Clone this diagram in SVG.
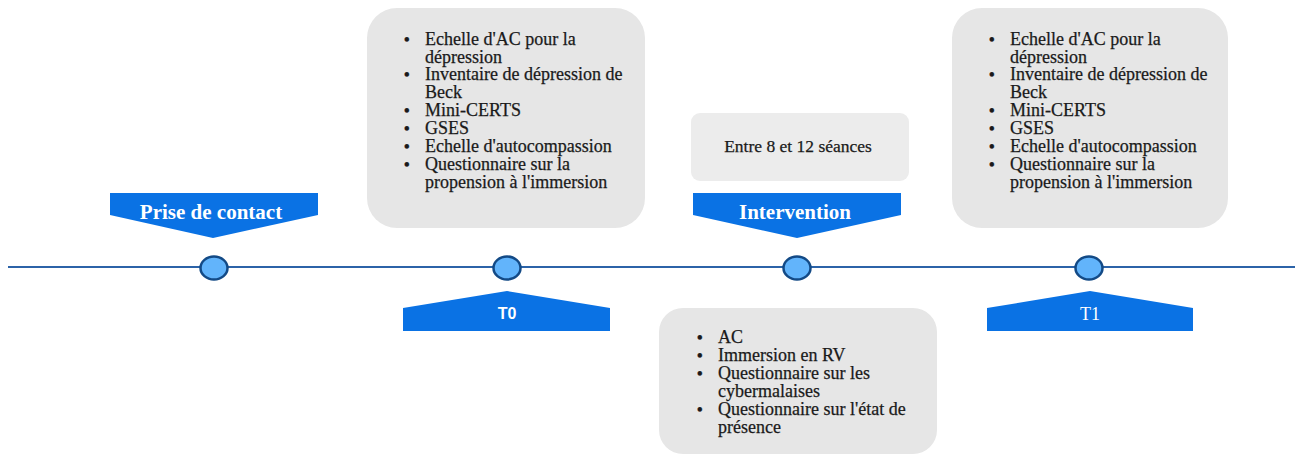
<svg xmlns="http://www.w3.org/2000/svg" width="1295" height="454" viewBox="0 0 1295 454">
<style>
.box{fill:#e6e6e6}
.bn{fill:#0a72e4}
.lst{font-family:"Liberation Serif",serif;font-size:18px;fill:#1a1a1a;stroke:#1a1a1a;stroke-width:0.25}
.bul{font-weight:bold;font-size:16px}
.bt{font-family:"Liberation Serif",serif;font-size:21px;font-weight:bold;fill:#fff;text-anchor:middle}
.dot{fill:#62b4fb;stroke:#134a86;stroke-width:2.5}
</style>
<rect width="1295" height="454" fill="#fff"/>
<g id="connectors">
<line x1="8" y1="267" x2="1295" y2="267" stroke="#2c63a8" stroke-width="2.2"/>
</g>
<g id="prise">
<path class="bn" d="M110,193 H318 V215 L213,238 L110,215 Z"/>
<text class="bt" x="211" y="219">Prise de contact</text>
<ellipse class="dot" cx="214" cy="268" rx="13.5" ry="11.5"/>
</g>
<g id="t0">
<rect class="box" x="367" y="8" width="278" height="220" rx="30"/>
<text class="lst">
<tspan class="bul" x="404" y="45">•</tspan><tspan x="425" y="45">Echelle d'AC pour la</tspan>
<tspan x="425" y="63">dépression</tspan>
<tspan class="bul" x="404" y="80">•</tspan><tspan x="425" y="80">Inventaire de dépression de</tspan>
<tspan x="425" y="98">Beck</tspan>
<tspan class="bul" x="404" y="116">•</tspan><tspan x="425" y="116">Mini-CERTS</tspan>
<tspan class="bul" x="404" y="134">•</tspan><tspan x="425" y="134">GSES</tspan>
<tspan class="bul" x="404" y="152">•</tspan><tspan x="425" y="152">Echelle d'autocompassion</tspan>
<tspan class="bul" x="404" y="170">•</tspan><tspan x="425" y="170">Questionnaire sur la</tspan>
<tspan x="425" y="188">propension à l'immersion</tspan>
</text>
<ellipse class="dot" cx="507" cy="268" rx="13.5" ry="11.5"/>
<path class="bn" d="M403,308 L507,291 L610,308 V331 H403 Z"/>
<text x="507" y="319" style="font-family:'Liberation Sans',sans-serif;font-size:16px;font-weight:bold;fill:#fff;text-anchor:middle">T0</text>
</g>
<g id="intervention">
<rect x="691" y="113" width="218" height="68" rx="9" fill="#ececec"/>
<text x="798" y="152" style="font-family:'Liberation Serif',serif;font-size:17.5px;fill:#1a1a1a;stroke:#1a1a1a;stroke-width:0.25;text-anchor:middle">Entre 8 et 12 séances</text>
<path class="bn" d="M693,193 H901 V215 L797,238 L693,215 Z"/>
<text class="bt" x="795" y="219">Intervention</text>
<ellipse class="dot" cx="797" cy="268" rx="13.5" ry="11.5"/>
<rect class="box" x="659" y="308" width="278" height="146" rx="24"/>
<text class="lst">
<tspan class="bul" x="697" y="343">•</tspan><tspan x="718" y="343">AC</tspan>
<tspan class="bul" x="697" y="361">•</tspan><tspan x="718" y="361">Immersion en RV</tspan>
<tspan class="bul" x="697" y="379">•</tspan><tspan x="718" y="379">Questionnaire sur les</tspan>
<tspan x="718" y="397">cybermalaises</tspan>
<tspan class="bul" x="697" y="415">•</tspan><tspan x="718" y="415">Questionnaire sur l'état de</tspan>
<tspan x="718" y="433">présence</tspan>
</text>
</g>
<g id="t1">
<rect class="box" x="952" y="8" width="276" height="220" rx="30"/>
<text class="lst">
<tspan class="bul" x="989" y="45">•</tspan><tspan x="1010" y="45">Echelle d'AC pour la</tspan>
<tspan x="1010" y="63">dépression</tspan>
<tspan class="bul" x="989" y="80">•</tspan><tspan x="1010" y="80">Inventaire de dépression de</tspan>
<tspan x="1010" y="98">Beck</tspan>
<tspan class="bul" x="989" y="116">•</tspan><tspan x="1010" y="116">Mini-CERTS</tspan>
<tspan class="bul" x="989" y="134">•</tspan><tspan x="1010" y="134">GSES</tspan>
<tspan class="bul" x="989" y="152">•</tspan><tspan x="1010" y="152">Echelle d'autocompassion</tspan>
<tspan class="bul" x="989" y="170">•</tspan><tspan x="1010" y="170">Questionnaire sur la</tspan>
<tspan x="1010" y="188">propension à l'immersion</tspan>
</text>
<ellipse class="dot" cx="1089" cy="268" rx="13.5" ry="11.5"/>
<path class="bn" d="M987,308 L1090,291 L1193,308 V331 H987 Z"/>
<text x="1090" y="320" style="font-family:'Liberation Serif',serif;font-size:18px;fill:#fff;text-anchor:middle">T1</text>
</g>
</svg>
